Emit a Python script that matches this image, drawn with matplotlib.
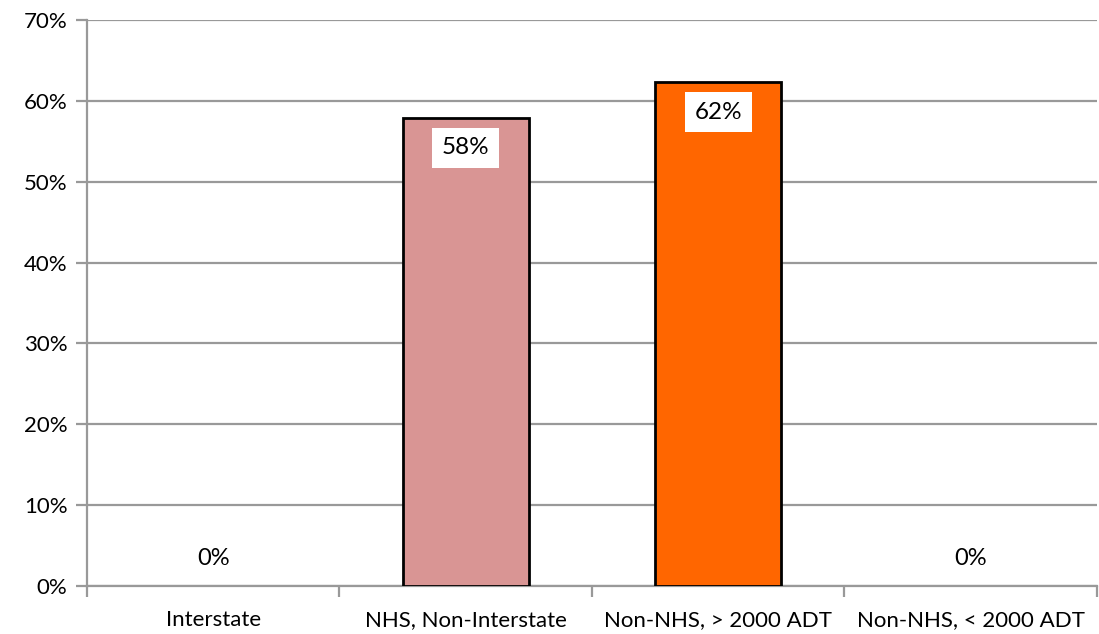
import matplotlib.pyplot as plt
import numpy as np

# Chart data
categories = ['Interstate', 'NHS, Non-Interstate', 'Non-NHS, > 2000 ADT', 'Non-NHS, < 2000 ADT']
values = [0.0, 0.579, 0.623, 0.0]
labels = ['0%', '58%', '62%', '0%']
colors = ['#d99594', '#d99594', '#ff6600', '#d99594']
y_ticks = [0, 0.1, 0.2, 0.3, 0.4, 0.5, 0.6, 0.7]
y_tick_labels = ['0%', '10%', '20%', '30%', '40%', '50%', '60%', '70%']

plt.rcParams['font.family'] = ['Lato', 'DejaVu Sans']
grid_col = '#999999'
fs = 16

fig = plt.figure(figsize=(10.99, 6.34), dpi=100)
ax = fig.add_axes([0.0792, 0.0757, 0.9188, 0.8928])

x = np.arange(len(categories))
for i, v in enumerate(values):
    if v > 0:
        ax.bar(x[i], v, width=0.5, color=colors[i], edgecolor='black', linewidth=2, zorder=3)
        ax.annotate(labels[i], (x[i], v), xytext=(0, -30), textcoords='offset pixels',
                    ha='center', va='center', fontsize=17.5, zorder=5,
                    bbox=dict(boxstyle='square,pad=0.4', fc='white', ec='none'))
    else:
        ax.annotate(labels[i], (x[i], v), xytext=(0, 28), textcoords='offset pixels',
                    ha='center', va='center', fontsize=17, zorder=5)

ax.set_xlim(-0.5, len(categories) - 0.5)
ax.set_ylim(0, 0.7)
ax.set_yticks(y_ticks)
ax.set_yticklabels(y_tick_labels, fontsize=fs)
ax.yaxis.grid(True, color=grid_col, linewidth=1.6, zorder=0)
ax.set_axisbelow(True)

# category labels centred, ticks on the boundaries
ax.set_xticks(x)
ax.set_xticklabels(categories, fontsize=fs)
ax.tick_params(axis='x', length=0, pad=17)
ax.set_xticks(np.arange(-0.5, len(categories)), minor=True)
ax.tick_params(axis='x', which='minor', length=8, width=1.6, color=grid_col, direction='out')
ax.tick_params(axis='y', length=8, width=1.6, color=grid_col, direction='out', pad=6)

for side in ['top', 'right']:
    ax.spines[side].set_visible(False)
for side in ['left', 'bottom']:
    ax.spines[side].set_color(grid_col)
    ax.spines[side].set_linewidth(1.6)

fig.savefig('out.png', dpi=100)
